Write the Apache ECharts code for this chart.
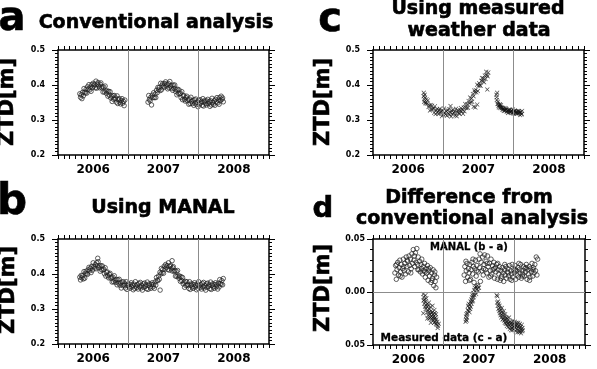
<!DOCTYPE html>
<html>
<head>
<meta charset="UTF-8">
<title>ZTD comparison</title>
<script src="https://cdn.jsdelivr.net/npm/echarts@6/dist/echarts.min.js"></script>
<style>
  body { margin: 0; background: #fff; }
  #chart { width: 597px; height: 369px; }
</style>
</head>
<body>
<div id="chart"></div>
<script>
// tick labels
const yearMid = [2006.5, 2007.5, 2008.5];
const yearLabels = ['2006', '2007', '2008'];
const yearLines = [2007, 2008];
const diffTickValues = [-0.05, 0, 0.05];
const diffTickLabels = ['0.05', '0.00', '0.05'];

// (a) conventional analysis, ZTD [m]
const convData = [
  [2006.31,0.375],[2006.32,0.365],[2006.33,0.372],[2006.34,0.361],[2006.35,0.379],[2006.36,0.369],[2006.37,0.390],[2006.38,0.380],[2006.39,0.377],[2006.40,0.388],
  [2006.41,0.377],[2006.42,0.395],[2006.43,0.388],[2006.44,0.401],[2006.45,0.386],[2006.46,0.394],[2006.47,0.382],[2006.48,0.401],[2006.49,0.392],[2006.50,0.405],
  [2006.51,0.397],[2006.52,0.402],[2006.53,0.392],[2006.54,0.411],[2006.55,0.391],[2006.56,0.403],[2006.57,0.407],[2006.58,0.397],[2006.59,0.392],[2006.60,0.402],
  [2006.61,0.406],[2006.62,0.392],[2006.63,0.395],[2006.64,0.380],[2006.65,0.394],[2006.66,0.380],[2006.67,0.397],[2006.68,0.383],[2006.69,0.376],[2006.70,0.383],
  [2006.71,0.368],[2006.72,0.382],[2006.73,0.371],[2006.74,0.381],[2006.75,0.363],[2006.76,0.368],[2006.77,0.353],[2006.78,0.370],[2006.79,0.359],[2006.80,0.370],
  [2006.81,0.360],[2006.82,0.363],[2006.83,0.351],[2006.84,0.369],[2006.85,0.347],[2006.86,0.358],[2006.87,0.361],[2006.88,0.351],[2006.89,0.346],[2006.90,0.356],
  [2006.91,0.361],[2006.92,0.348],[2006.93,0.353],[2006.94,0.341],[2006.95,0.357],
  [2007.28,0.351],[2007.29,0.370],[2007.30,0.359],[2007.31,0.355],[2007.32,0.365],[2007.33,0.343],[2007.34,0.371],[2007.35,0.364],[2007.36,0.378],[2007.37,0.364],
  [2007.38,0.374],[2007.39,0.364],[2007.40,0.385],[2007.41,0.378],[2007.42,0.393],[2007.43,0.387],[2007.44,0.393],[2007.45,0.384],[2007.46,0.405],[2007.47,0.386],
  [2007.48,0.399],[2007.49,0.404],[2007.50,0.396],[2007.51,0.393],[2007.52,0.404],[2007.53,0.409],[2007.54,0.397],[2007.55,0.402],[2007.56,0.389],[2007.57,0.404],
  [2007.58,0.392],[2007.59,0.410],[2007.60,0.397],[2007.61,0.391],[2007.62,0.399],[2007.63,0.385],[2007.64,0.400],[2007.65,0.390],[2007.66,0.400],[2007.67,0.382],
  [2007.68,0.387],[2007.69,0.372],[2007.70,0.388],[2007.71,0.376],[2007.72,0.386],[2007.73,0.375],[2007.74,0.377],[2007.75,0.364],[2007.76,0.381],[2007.77,0.358],
  [2007.78,0.368],[2007.79,0.370],[2007.80,0.359],[2007.81,0.354],[2007.82,0.364],[2007.83,0.368],[2007.84,0.355],[2007.85,0.359],[2007.86,0.345],[2007.87,0.360],
  [2007.88,0.347],[2007.89,0.365],[2007.90,0.353],[2007.91,0.347],[2007.92,0.356],[2007.93,0.342],[2007.94,0.358],[2007.95,0.349],[2007.96,0.360],[2007.97,0.344],
  [2007.98,0.351],[2007.99,0.338],[2008.00,0.356],[2008.01,0.346],[2008.02,0.358],[2008.03,0.349],[2008.04,0.353],[2008.05,0.342],[2008.06,0.361],[2008.07,0.340],
  [2008.08,0.352],[2008.09,0.356],[2008.10,0.347],[2008.11,0.343],[2008.12,0.354],[2008.13,0.359],[2008.14,0.347],[2008.15,0.352],[2008.16,0.339],[2008.17,0.355],
  [2008.18,0.343],[2008.19,0.362],[2008.20,0.350],[2008.21,0.345],[2008.22,0.355],[2008.23,0.342],[2008.24,0.359],[2008.25,0.351],[2008.26,0.364],[2008.27,0.349],
  [2008.28,0.357],[2008.29,0.345],[2008.30,0.364],[2008.31,0.355],[2008.32,0.368],[2008.33,0.359],[2008.34,0.363],[2008.35,0.352]
];

// (b) using MANAL, ZTD [m]
const manalData = [
  [2006.31,0.391],[2006.32,0.383],[2006.33,0.396],[2006.34,0.389],[2006.35,0.395],[2006.36,0.386],[2006.37,0.407],[2006.38,0.388],[2006.39,0.402],[2006.40,0.408],
  [2006.41,0.401],[2006.42,0.399],[2006.43,0.412],[2006.44,0.419],[2006.45,0.409],[2006.46,0.416],[2006.47,0.404],[2006.48,0.422],[2006.49,0.411],[2006.50,0.432],
  [2006.51,0.421],[2006.52,0.417],[2006.53,0.427],[2006.54,0.415],[2006.55,0.432],[2006.56,0.423],[2006.565,0.445],[2006.57,0.435],[2006.58,0.418],[2006.59,0.423],
  [2006.60,0.408],[2006.61,0.424],[2006.62,0.412],[2006.63,0.423],[2006.64,0.412],[2006.65,0.414],[2006.66,0.401],[2006.67,0.418],[2006.68,0.394],[2006.69,0.404],
  [2006.70,0.406],[2006.71,0.395],[2006.72,0.389],[2006.73,0.399],[2006.74,0.402],[2006.75,0.388],[2006.76,0.391],[2006.77,0.377],[2006.78,0.391],[2006.79,0.378],
  [2006.80,0.395],[2006.81,0.382],[2006.82,0.376],[2006.83,0.384],[2006.84,0.369],[2006.85,0.384],[2006.86,0.374],[2006.87,0.385],[2006.88,0.368],[2006.89,0.374],
  [2006.90,0.360],[2006.91,0.377],[2006.92,0.367],[2006.93,0.378],[2006.94,0.368],[2006.95,0.372],[2006.96,0.360],[2006.97,0.378],[2006.98,0.356],[2006.99,0.368],
  [2007.00,0.372],[2007.01,0.363],[2007.02,0.359],[2007.03,0.370],[2007.04,0.375],[2007.05,0.363],[2007.06,0.368],[2007.07,0.355],[2007.08,0.371],[2007.09,0.359],
  [2007.10,0.378],[2007.11,0.366],[2007.12,0.361],[2007.13,0.370],[2007.14,0.357],[2007.15,0.373],[2007.16,0.364],[2007.17,0.376],[2007.18,0.360],[2007.19,0.367],
  [2007.20,0.354],[2007.21,0.372],[2007.22,0.362],[2007.23,0.374],[2007.24,0.365],[2007.25,0.369],[2007.26,0.358],[2007.27,0.377],[2007.28,0.356],[2007.29,0.368],
  [2007.30,0.372],[2007.31,0.363],[2007.32,0.359],[2007.33,0.370],[2007.34,0.375],[2007.35,0.363],[2007.36,0.370],[2007.37,0.359],[2007.38,0.377],[2007.39,0.368],
  [2007.40,0.390],[2007.41,0.382],[2007.42,0.381],[2007.43,0.394],[2007.44,0.385],[2007.45,0.405],[2007.452,0.354],[2007.46,0.400],[2007.47,0.416],[2007.48,0.403],
  [2007.49,0.413],[2007.50,0.402],[2007.51,0.422],[2007.52,0.414],[2007.53,0.427],[2007.54,0.419],[2007.55,0.424],[2007.56,0.413],[2007.57,0.432],[2007.58,0.411],
  [2007.59,0.422],[2007.60,0.425],[2007.61,0.415],[2007.62,0.409],[2007.622,0.438],[2007.63,0.418],[2007.64,0.421],[2007.65,0.407],[2007.66,0.410],[2007.67,0.394],
  [2007.68,0.408],[2007.69,0.393],[2007.70,0.410],[2007.71,0.395],[2007.72,0.388],[2007.73,0.394],[2007.74,0.379],[2007.75,0.392],[2007.76,0.381],[2007.77,0.390],
  [2007.78,0.372],[2007.79,0.377],[2007.80,0.362],[2007.81,0.379],[2007.82,0.367],[2007.83,0.378],[2007.84,0.368],[2007.85,0.371],[2007.86,0.359],[2007.87,0.378],
  [2007.88,0.356],[2007.89,0.368],[2007.90,0.372],[2007.91,0.363],[2007.92,0.359],[2007.93,0.370],[2007.94,0.375],[2007.95,0.363],[2007.96,0.368],[2007.97,0.355],
  [2007.98,0.371],[2007.99,0.359],[2008.00,0.378],[2008.01,0.366],[2008.02,0.361],[2008.03,0.370],[2008.04,0.357],[2008.05,0.373],[2008.06,0.364],[2008.07,0.376],
  [2008.08,0.360],[2008.09,0.367],[2008.10,0.354],[2008.11,0.372],[2008.12,0.362],[2008.13,0.374],[2008.14,0.365],[2008.15,0.369],[2008.16,0.358],[2008.17,0.377],
  [2008.18,0.356],[2008.19,0.368],[2008.20,0.372],[2008.21,0.363],[2008.22,0.359],[2008.23,0.370],[2008.24,0.375],[2008.25,0.363],[2008.26,0.369],[2008.27,0.357],
  [2008.28,0.374],[2008.29,0.363],[2008.30,0.384],[2008.31,0.373],[2008.32,0.370],[2008.33,0.381],[2008.34,0.369],[2008.35,0.387]
];

// (c) using measured weather data, ZTD [m]
const weatherData = [
  [2006.720,0.368],[2006.722,0.378],[2006.727,0.352],[2006.730,0.359],[2006.735,0.372],[2006.740,0.364],[2006.745,0.350],[2006.750,0.347],[2006.760,0.359],[2006.770,0.347],
  [2006.780,0.356],[2006.790,0.337],[2006.800,0.342],[2006.810,0.327],[2006.820,0.343],[2006.830,0.331],[2006.840,0.341],[2006.850,0.331],[2006.860,0.333],[2006.870,0.321],
  [2006.880,0.339],[2006.890,0.317],[2006.900,0.328],[2006.910,0.331],[2006.920,0.322],[2006.930,0.317],[2006.940,0.328],[2006.950,0.332],[2006.960,0.320],[2006.970,0.325],
  [2006.980,0.311],[2006.990,0.327],[2007.000,0.315],[2007.010,0.333],[2007.020,0.321],[2007.030,0.316],[2007.040,0.325],[2007.050,0.312],[2007.060,0.328],[2007.070,0.319],
  [2007.080,0.331],[2007.090,0.315],[2007.100,0.322],[2007.102,0.340],[2007.110,0.310],[2007.120,0.327],[2007.130,0.317],[2007.140,0.329],[2007.150,0.320],[2007.160,0.324],
  [2007.170,0.313],[2007.180,0.332],[2007.190,0.311],[2007.200,0.323],[2007.210,0.328],[2007.220,0.320],[2007.230,0.317],[2007.240,0.328],[2007.250,0.334],[2007.260,0.324],
  [2007.270,0.330],[2007.280,0.318],[2007.290,0.336],[2007.300,0.325],[2007.310,0.346],[2007.320,0.336],[2007.330,0.334],[2007.340,0.345],[2007.350,0.335],[2007.360,0.354],
  [2007.370,0.348],[2007.380,0.364],[2007.390,0.351],[2007.400,0.362],[2007.410,0.352],[2007.420,0.374],[2007.430,0.368],[2007.432,0.338],[2007.440,0.384],[2007.450,0.379],
  [2007.455,0.336],[2007.460,0.386],[2007.470,0.379],[2007.480,0.401],[2007.482,0.344],[2007.490,0.383],[2007.500,0.398],[2007.510,0.405],[2007.520,0.399],[2007.530,0.398],
  [2007.540,0.412],[2007.550,0.420],[2007.560,0.411],[2007.570,0.419],[2007.580,0.408],[2007.590,0.427],[2007.600,0.417],[2007.610,0.438],[2007.620,0.428],[2007.625,0.387],
  [2007.630,0.425],[2007.640,0.436],
  [2007.755,0.372],[2007.758,0.365],[2007.760,0.357],[2007.765,0.378],[2007.770,0.346],[2007.775,0.352],[2007.780,0.346],[2007.785,0.340],[2007.790,0.336],[2007.800,0.343],
  [2007.805,0.345],[2007.810,0.334],[2007.815,0.337],[2007.820,0.342],[2007.830,0.334],[2007.835,0.336],[2007.840,0.330],[2007.850,0.334],[2007.855,0.330],[2007.860,0.326],
  [2007.870,0.334],[2007.875,0.327],[2007.880,0.328],[2007.890,0.333],[2007.895,0.331],[2007.900,0.324],[2007.910,0.328],[2007.915,0.324],[2007.920,0.320],[2007.930,0.329],
  [2007.935,0.328],[2007.940,0.323],[2007.950,0.329],[2007.955,0.322],[2007.960,0.324],[2007.970,0.326],[2007.975,0.327],[2007.980,0.320],[2007.990,0.330],[2007.995,0.321],
  [2008.000,0.318],[2008.010,0.324],[2008.015,0.327],[2008.020,0.326],[2008.030,0.320],[2008.035,0.324],[2008.040,0.318],[2008.050,0.324],[2008.055,0.319],[2008.060,0.326],
  [2008.070,0.319],[2008.075,0.325],[2008.080,0.322],[2008.090,0.314],[2008.095,0.321],[2008.100,0.323],[2008.110,0.316],[2008.115,0.318],[2008.120,0.326]
];

// (d) difference from conventional analysis [m]: MANAL (b - a)
const diffManal = [
  [2006.31,0.018],[2006.32,0.025],[2006.33,0.012],[2006.34,0.021],[2006.35,0.028],[2006.36,0.016],[2006.37,0.023],[2006.38,0.030],[2006.39,0.019],[2006.40,0.026],
  [2006.41,0.014],[2006.42,0.022],[2006.43,0.031],[2006.44,0.020],[2006.45,0.027],[2006.46,0.017],[2006.47,0.033],[2006.48,0.024],[2006.49,0.029],[2006.50,0.019],
  [2006.51,0.034],[2006.52,0.025],[2006.53,0.031],[2006.54,0.022],[2006.55,0.036],[2006.56,0.027],[2006.57,0.040],[2006.58,0.030],[2006.59,0.024],[2006.60,0.037],
  [2006.61,0.028],[2006.62,0.041],[2006.63,0.026],[2006.64,0.033],[2006.65,0.021],[2006.66,0.029],[2006.67,0.019],[2006.68,0.026],[2006.69,0.031],[2006.70,0.017],
  [2006.71,0.024],[2006.72,0.020],[2006.73,0.027],[2006.74,0.014],[2006.75,0.022],[2006.76,0.018],[2006.77,0.025],[2006.78,0.011],[2006.79,0.020],[2006.80,0.015],
  [2006.81,0.023],[2006.82,0.009],[2006.83,0.018],[2006.84,0.013],[2006.85,0.021],[2006.86,0.006],[2006.87,0.016],[2006.88,0.010],[2006.89,0.004],[2006.90,0.014],
  [2006.335,0.026],[2006.385,0.015],[2006.435,0.024],[2006.485,0.030],[2006.535,0.018],[2006.585,0.034],[2006.635,0.021],[2006.685,0.022],[2006.735,0.019],[2006.785,0.022],
  [2006.835,0.011],[2006.875,0.019],
  [2007.29,0.016],[2007.30,0.024],[2007.31,0.010],[2007.32,0.020],[2007.33,0.027],[2007.34,0.014],[2007.35,0.022],[2007.36,0.018],[2007.37,0.026],[2007.38,0.012],
  [2007.39,0.021],[2007.40,0.028],[2007.41,0.017],[2007.42,0.024],[2007.43,0.009],[2007.44,0.022],[2007.45,0.030],[2007.46,0.015],[2007.47,0.025],[2007.48,0.006],
  [2007.49,0.019],[2007.50,0.031],[2007.51,0.023],[2007.52,0.010],[2007.53,0.028],[2007.54,0.020],[2007.55,0.033],[2007.56,0.016],[2007.57,0.026],[2007.58,0.035],
  [2007.59,0.021],[2007.60,0.029],[2007.61,0.018],[2007.62,0.034],[2007.63,0.024],[2007.64,0.014],[2007.65,0.027],[2007.66,0.020],[2007.67,0.031],[2007.68,0.017],
  [2007.69,0.025],[2007.70,0.021],[2007.71,0.028],[2007.72,0.013],[2007.73,0.023],[2007.74,0.019],[2007.75,0.026],[2007.76,0.012],[2007.77,0.021],[2007.78,0.017],
  [2007.79,0.024],[2007.80,0.011],[2007.81,0.020],[2007.82,0.015],[2007.83,0.023],[2007.84,0.018],[2007.85,0.010],[2007.86,0.021],[2007.87,0.016],[2007.88,0.024],
  [2007.89,0.013],[2007.90,0.019],[2007.91,0.022],[2007.92,0.015],[2007.93,0.025],[2007.94,0.012],[2007.95,0.020],[2007.96,0.017],[2007.97,0.026],[2007.98,0.014],
  [2007.99,0.021],[2008.00,0.018],[2008.01,0.025],[2008.02,0.012],[2008.03,0.020],[2008.04,0.016],[2008.05,0.023],[2008.06,0.014],[2008.07,0.021],[2008.08,0.018],
  [2008.09,0.026],[2008.10,0.013],[2008.11,0.020],[2008.12,0.017],[2008.13,0.024],[2008.14,0.015],[2008.15,0.022],[2008.16,0.019],[2008.17,0.026],[2008.18,0.012],
  [2008.19,0.021],[2008.20,0.017],[2008.21,0.024],[2008.22,0.014],[2008.23,0.022],[2008.24,0.019],[2008.25,0.027],[2008.26,0.015],[2008.27,0.023],[2008.28,0.018],
  [2008.29,0.026],[2008.30,0.020],[2008.31,0.033],[2008.32,0.016],[2008.33,0.031],
  [2007.315,0.029],[2007.365,0.011],[2007.415,0.031],[2007.465,0.020],[2007.515,0.036],[2007.565,0.022],[2007.615,0.027],[2007.665,0.015],[2007.715,0.022],[2007.765,0.027],
  [2007.815,0.013],[2007.865,0.026],[2007.915,0.018],[2007.965,0.011],[2008.015,0.021],[2008.065,0.027],[2008.115,0.015],[2008.165,0.023],[2008.215,0.011],[2008.265,0.021]
];

// (d) difference from conventional analysis [m]: measured data (c - a)
const diffMeasured = [
  [2006.710,-0.002],[2006.712,-0.020],[2006.715,-0.008],[2006.720,-0.005],[2006.725,-0.011],[2006.730,-0.007],[2006.735,-0.014],[2006.740,-0.009],[2006.745,-0.016],[2006.750,-0.012],
  [2006.755,-0.006],[2006.760,-0.014],[2006.765,-0.019],[2006.770,-0.011],[2006.775,-0.017],[2006.780,-0.022],[2006.785,-0.013],[2006.790,-0.019],[2006.795,-0.025],[2006.800,-0.016],
  [2006.805,-0.021],[2006.810,-0.014],[2006.815,-0.024],[2006.820,-0.018],[2006.825,-0.023],[2006.830,-0.020],[2006.835,-0.026],[2006.840,-0.019],[2006.845,-0.024],[2006.850,-0.021],
  [2006.855,-0.027],[2006.860,-0.023],[2006.865,-0.029],[2006.870,-0.025],[2006.875,-0.020],[2006.880,-0.028],[2006.885,-0.024],[2006.890,-0.030],[2006.895,-0.026],[2006.900,-0.031],
  [2006.910,-0.028],[2006.920,-0.032],[2006.930,-0.030],
  [2006.742,-0.003],[2006.768,-0.025],[2006.792,-0.010],[2006.818,-0.029],[2006.842,-0.013],[2006.868,-0.017],[2006.892,-0.021],[2006.915,-0.034],
  [2007.310,-0.028],[2007.314,-0.023],[2007.318,-0.026],[2007.322,-0.021],[2007.326,-0.027],[2007.330,-0.024],[2007.334,-0.020],[2007.340,-0.017],[2007.345,-0.013],[2007.350,-0.018],
  [2007.355,-0.011],[2007.360,-0.015],[2007.365,-0.019],[2007.370,-0.012],[2007.375,-0.016],[2007.380,-0.009],[2007.385,-0.014],[2007.390,-0.007],[2007.395,-0.011],[2007.400,-0.005],
  [2007.405,-0.009],[2007.410,-0.003],[2007.415,-0.008],[2007.420,-0.001],[2007.425,-0.005],[2007.430,0.002],[2007.435,-0.003],[2007.440,0.004],[2007.450,0.000],[2007.455,0.005],
  [2007.460,-0.002],[2007.470,0.003],[2007.480,0.006],[2007.490,0.001],[2007.500,0.004],
  [2007.750,-0.003],[2007.755,-0.010],[2007.760,-0.004],[2007.765,-0.013],[2007.770,-0.009],[2007.775,-0.016],[2007.780,-0.011],[2007.785,-0.018],[2007.790,-0.013],[2007.795,-0.020],
  [2007.800,-0.015],[2007.805,-0.022],[2007.810,-0.017],[2007.815,-0.024],[2007.820,-0.019],[2007.825,-0.015],[2007.830,-0.022],[2007.835,-0.026],[2007.840,-0.020],[2007.845,-0.025],
  [2007.850,-0.018],[2007.855,-0.027],[2007.860,-0.023],[2007.865,-0.029],[2007.870,-0.021],[2007.875,-0.026],[2007.880,-0.030],[2007.885,-0.024],[2007.890,-0.028],[2007.895,-0.032],
  [2007.900,-0.025],[2007.905,-0.030],[2007.910,-0.027],[2007.915,-0.033],[2007.920,-0.029],[2007.925,-0.024],[2007.930,-0.031],[2007.935,-0.035],[2007.940,-0.028],[2007.945,-0.033],
  [2007.950,-0.030],[2007.955,-0.036],[2007.960,-0.029],[2007.965,-0.034],[2007.970,-0.031],[2007.975,-0.036],[2007.980,-0.027],[2007.985,-0.033],[2007.990,-0.030],[2007.995,-0.035],
  [2008.000,-0.032],[2008.005,-0.028],[2008.010,-0.034],[2008.015,-0.031],[2008.020,-0.037],[2008.025,-0.032],[2008.030,-0.029],[2008.035,-0.035],[2008.040,-0.031],[2008.045,-0.038],
  [2008.050,-0.033],[2008.055,-0.029],[2008.060,-0.036],[2008.065,-0.032],[2008.070,-0.038],[2008.075,-0.034],[2008.080,-0.030],[2008.085,-0.037],[2008.090,-0.033],[2008.095,-0.039],
  [2008.100,-0.035],[2008.105,-0.031],[2008.110,-0.037],[2008.115,-0.034],[2008.120,-0.036]
];

const FONT = '"DejaVu Sans", sans-serif';
const CROSS = 'path://M0,1L1,0L5,4L9,0L10,1L6,5L10,9L9,10L5,6L1,10L0,9L4,5Z';

const grids = [
  { left: 58, top: 50, width: 211, height: 105 },   // a
  { left: 373, top: 50, width: 211, height: 105 },  // c
  { left: 58, top: 239, width: 211, height: 105 },  // b
  { left: 373, top: 239, width: 212, height: 106 }  // d
];

function xAxesFor(gi) {
  const base = {
    type: 'value', gridIndex: gi, min: 2006, max: 2009, interval: 0.5,
    axisLine: { show: true, onZero: false, lineStyle: { color: '#000', width: 1.5 } },
    axisTick: { show: true, inside: false, length: 4, lineStyle: { color: '#000', width: 1 } },
    minorTick: { show: true, splitNumber: 6, length: 4, lineStyle: { color: '#000', width: 1 } },
    splitLine: { show: false }
  };
  return [
    Object.assign({}, base, {
      position: 'bottom',
      axisLabel: {
        show: true, margin: 9, color: '#000', fontFamily: FONT, fontWeight: 'bold', fontSize: 12,
        formatter: function (v) {
          const i = yearMid.indexOf(v);
          return i >= 0 ? yearLabels[i] : '';
        }
      }
    }),
    Object.assign({}, base, { position: 'top', axisLabel: { show: false } })
  ];
}

function yAxesFor(gi, min, max, interval, minorSplit, margin, fmt) {
  const base = {
    type: 'value', gridIndex: gi, min: min, max: max, interval: interval,
    axisLine: { show: true, onZero: false, lineStyle: { color: '#000', width: 1.5 } },
    axisTick: { show: true, inside: false, length: 6, lineStyle: { color: '#000', width: 1 } },
    minorTick: { show: true, splitNumber: minorSplit, length: 3, lineStyle: { color: '#000', width: 1 } },
    splitLine: { show: false }
  };
  return [
    Object.assign({}, base, {
      position: 'left',
      axisLabel: { show: true, margin: margin, color: '#000', fontFamily: FONT, fontWeight: 'bold', fontSize: 8, formatter: fmt }
    }),
    Object.assign({}, base, { position: 'right', axisLabel: { show: false } })
  ];
}

const ztdFmt = function (v) { return v.toFixed(1); };
const diffFmt = function (v) {
  let idx = 0;
  diffTickValues.forEach(function (t, i) { if (Math.abs(t - v) < 1e-6) idx = i; });
  return diffTickLabels[idx];
};

const xAxes = [].concat(xAxesFor(0), xAxesFor(1), xAxesFor(2), xAxesFor(3));
const yAxes = [].concat(
  yAxesFor(0, 0.2, 0.5, 0.1, 10, 13, ztdFmt),
  yAxesFor(1, 0.2, 0.5, 0.1, 10, 13, ztdFmt),
  yAxesFor(2, 0.2, 0.5, 0.1, 10, 13, ztdFmt),
  yAxesFor(3, -0.05, 0.05, 0.05, 5, 8, diffFmt)
);

function guideLines(withZero) {
  const data = yearLines.map(function (y) { return { xAxis: y }; });
  if (withZero) data.push({ yAxis: 0 });
  return {
    silent: true, symbol: 'none', animation: false,
    label: { show: false },
    lineStyle: { color: '#8c8c8c', width: 1, type: 'solid' },
    data: data
  };
}

const circleStyle = { color: 'rgba(255,255,255,0)', borderColor: '#222', borderWidth: 0.9 };
const crossStyle = { color: '#111' };

function text(str, x, y, size, rotate) {
  return {
    type: 'text', x: x, y: y, rotation: rotate ? Math.PI / 2 : 0,
    style: {
      text: str, fill: '#000', font: 'bold ' + size + 'px ' + FONT,
      align: 'center', verticalAlign: 'middle',
      stroke: '#000', lineWidth: size > 15 ? 0.6 : 0.3
    }
  };
}

const option = {
  backgroundColor: '#fff',
  animation: false,
  grid: grids,
  xAxis: xAxes,
  yAxis: yAxes,
  graphic: [
    text('a', 12, 20, 40),
    text('c', 330, 21, 40),
    text('b', 12, 203, 42),
    text('d', 323, 209, 29),
    text('Conventional analysis', 156, 23, 19),
    text('Using measured', 478, 9, 19),
    text('weather data', 479, 31, 19),
    text('Using MANAL', 163, 208, 19),
    text('Difference from', 469, 198, 19),
    text('conventional analysis', 472, 219, 19),
    text('ZTD[m]', 8, 102, 21, true),
    text('ZTD[m]', 324, 102, 21, true),
    text('ZTD[m]', 9, 290, 21, true),
    text('ZTD[m]', 324, 288, 21, true),
    text('MANAL (b - a)', 469, 247, 10),
    text('Measured data (c - a)', 444, 338, 10.5)
  ],
  series: [
    { type: 'scatter', xAxisIndex: 0, yAxisIndex: 0, data: convData, symbol: 'circle', symbolSize: 4.5, itemStyle: circleStyle, markLine: guideLines(false) },
    { type: 'scatter', xAxisIndex: 2, yAxisIndex: 2, data: weatherData, symbol: CROSS, symbolSize: 4.5, itemStyle: crossStyle, markLine: guideLines(false) },
    { type: 'scatter', xAxisIndex: 4, yAxisIndex: 4, data: manalData, symbol: 'circle', symbolSize: 4.5, itemStyle: circleStyle, markLine: guideLines(false) },
    { type: 'scatter', xAxisIndex: 6, yAxisIndex: 6, data: diffManal, symbol: 'circle', symbolSize: 4.5, itemStyle: circleStyle, markLine: guideLines(true) },
    { type: 'scatter', xAxisIndex: 6, yAxisIndex: 6, data: diffMeasured, symbol: CROSS, symbolSize: 4.5, itemStyle: crossStyle }
  ]
};

const chart = echarts.init(document.getElementById('chart'));
chart.setOption(option);
window.addEventListener('resize', function () { chart.resize(); });
</script>
</body>
</html>
